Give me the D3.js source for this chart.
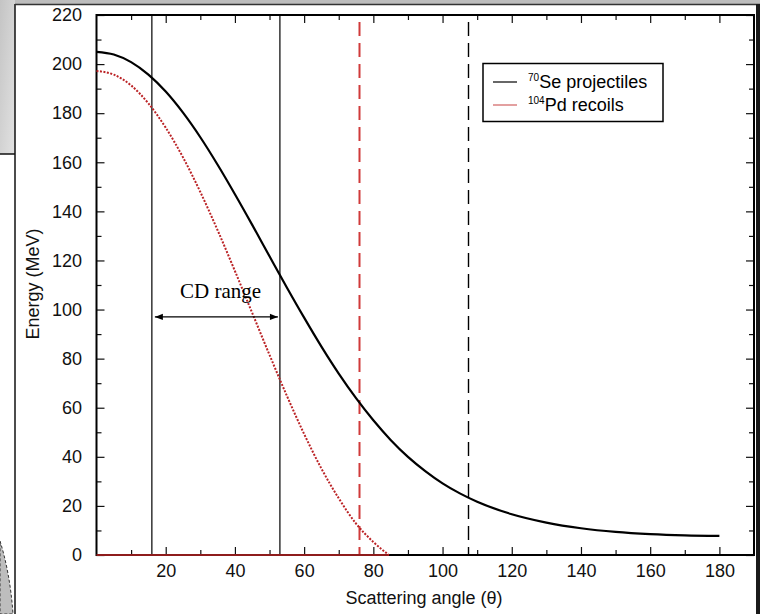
<!DOCTYPE html>
<html>
<head>
<meta charset="utf-8">
<script src="https://cdn.jsdelivr.net/npm/d3@7"></script>
<style>
  html, body { margin: 0; padding: 0; background: #ffffff; }
  svg { display: block; font-family: "Liberation Sans", Arial, Helvetica, sans-serif; }
</style>
</head>
<body>
<svg id="chart" width="760" height="614"></svg>
<script>
// ---- data ----
const projAngle  = [0,5,10,15,20,25,30,35,40,45,50,55,60,65,70,75,80,85,90,95,100,105,110,120,130,140,150,160,170,180];
const projEnergy = [205,203.9,200.8,195.7,188.8,180.2,170.2,159.0,147.0,134.5,121.7,109.0,96.7,84.9,73.9,63.9,54.9,46.9,40.0,34.2,29.2,25.1,21.7,16.6,13.2,10.9,9.4,8.5,8.0,7.8];
const recAngle   = [0,5,10,15,20,25,30,35,40,45,50,55,60,65,70,75,80,84.5];
const recEnergy  = [197.2,195.7,191.3,184.0,174.1,162.0,147.9,132.3,115.7,98.6,81.5,64.9,49.3,35.2,23.1,12.8,5.3,0];
const recZeroAngle = [0, 84.5];
const recZeroEnergy = [0, 0];
const cdRange = [16, 53];          // solid vertical lines
const redDashedAngle = 76;         // red dashed vertical line
const blackDashedAngle = 107.5;    // black dashed vertical line
const xMajorTicks = [20,40,60,80,100,120,140,160,180];
const xMinorTicks = [10,30,50,70,90,110,130,150,170];
const yMajorTicks = [0,20,40,60,80,100,120,140,160,180,200,220];
const yMinorTicks = [10,30,50,70,90,110,130,150,170,190,210];
const seriesNames = ["Se projectiles", "Pd recoils"];
const seriesMass  = ["70", "104"];
const xTitle = "Scattering angle (\u03B8)";
const yTitle = "Energy (MeV)";
const cdLabel = "CD range";

// ---- layout ----
const svg = d3.select("#chart");
const L = 96.5, R = 754, T = 15, B = 555;
const x = d3.scaleLinear().domain([0, 190]).range([L, R]);
const y = d3.scaleLinear().domain([0, 220]).range([B, T]);

// background decorations (scanned page look)
const defs = svg.append("defs");
const bgGrad = defs.append("linearGradient")
  .attr("id", "gbg").attr("x1", 0).attr("y1", 0).attr("x2", 1).attr("y2", 1);
bgGrad.append("stop").attr("offset", "0%").attr("stop-color", "#c4c4c4");
bgGrad.append("stop").attr("offset", "100%").attr("stop-color", "#e2e2e2");
svg.append("rect").attr("x", 0).attr("y", 0).attr("width", 760).attr("height", 4).attr("fill", "#bdbdbd");
svg.append("rect").attr("x", 0).attr("y", 0).attr("width", 15).attr("height", 154).attr("fill", "url(#gbg)");
svg.append("line").attr("x1", 0).attr("x2", 15).attr("y1", 154).attr("y2", 154).attr("stroke", "#111").attr("stroke-width", 1.5);
svg.append("path").attr("d", "M0,541 C6,560 11,585 13,614 L0,614 Z").attr("fill", "#bdbdbd")
  .attr("stroke", "#333").attr("stroke-width", 1).attr("stroke-dasharray", "3,2");
svg.append("line").attr("x1", 15).attr("x2", 15).attr("y1", 4).attr("y2", 614).attr("stroke", "#111").attr("stroke-width", 1.5);
svg.append("line").attr("x1", 15).attr("x2", 760).attr("y1", 4.5).attr("y2", 4.5).attr("stroke", "#333").attr("stroke-width", 1.5);
svg.append("rect").attr("x", 756).attr("y", 4).attr("width", 4).attr("height", 610).attr("fill", "#1a1a1a");

// ---- axes ----
const g = svg.append("g");
const fmt = d3.format("d");

g.append("g").attr("transform", `translate(0,${B})`)
  .call(d3.axisBottom(x).tickValues(xMajorTicks).tickFormat(fmt).tickSizeInner(-8).tickSizeOuter(0).tickPadding(9));
g.append("g").attr("transform", `translate(0,${B})`)
  .call(d3.axisBottom(x).tickValues(xMinorTicks).tickFormat("").tickSizeInner(-5).tickSizeOuter(0));
g.append("g").attr("transform", `translate(0,${T})`)
  .call(d3.axisTop(x).tickValues(xMajorTicks).tickFormat("").tickSizeInner(-8).tickSizeOuter(0));
g.append("g").attr("transform", `translate(0,${T})`)
  .call(d3.axisTop(x).tickValues(xMinorTicks).tickFormat("").tickSizeInner(-5).tickSizeOuter(0));
g.append("g").attr("transform", `translate(${L},0)`)
  .call(d3.axisLeft(y).tickValues(yMajorTicks).tickFormat(fmt).tickSizeInner(-8).tickSizeOuter(0).tickPadding(14.5));
g.append("g").attr("transform", `translate(${L},0)`)
  .call(d3.axisLeft(y).tickValues(yMinorTicks).tickFormat("").tickSizeInner(-5).tickSizeOuter(0));
g.append("g").attr("transform", `translate(${R},0)`)
  .call(d3.axisRight(y).tickValues(yMajorTicks).tickFormat("").tickSizeInner(-8).tickSizeOuter(0));
g.append("g").attr("transform", `translate(${R},0)`)
  .call(d3.axisRight(y).tickValues(yMinorTicks).tickFormat("").tickSizeInner(-5).tickSizeOuter(0));

g.selectAll(".domain").remove();
g.selectAll(".tick line").attr("stroke", "#111").attr("stroke-width", 1.2);
g.selectAll(".tick text").style("font-size", "18px").attr("fill", "#111")
  .style("font-family", "'Liberation Sans', Arial, sans-serif");

// plot frame
svg.append("rect").attr("x", L).attr("y", T).attr("width", R - L).attr("height", B - T)
  .attr("fill", "none").attr("stroke", "#000").attr("stroke-width", 2);

// ---- vertical reference lines ----
svg.selectAll(".cdline").data(cdRange).enter().append("line")
  .attr("x1", d => x(d)).attr("x2", d => x(d)).attr("y1", T).attr("y2", B)
  .attr("stroke", "#000").attr("stroke-width", 1.2);
svg.append("line").attr("x1", x(redDashedAngle)).attr("x2", x(redDashedAngle)).attr("y1", T).attr("y2", B)
  .attr("stroke", "#d03a3a").attr("stroke-width", 2).attr("stroke-dasharray", "14,7").attr("stroke-dashoffset", -7);
svg.append("line").attr("x1", x(blackDashedAngle)).attr("x2", x(blackDashedAngle)).attr("y1", T).attr("y2", B)
  .attr("stroke", "#000").attr("stroke-width", 1.4).attr("stroke-dasharray", "14,7").attr("stroke-dashoffset", -7);

// ---- curves ----
const line = d3.line().x(d => x(d[0])).y(d => y(d[1])).curve(d3.curveMonotoneX);
svg.append("path").datum(recZeroAngle.map((a, i) => [a, recZeroEnergy[i]]))
  .attr("d", line).attr("fill", "none").attr("stroke", "#8e1c1c").attr("stroke-width", 2.2);
svg.append("path").datum(recAngle.map((a, i) => [a, recEnergy[i]]))
  .attr("d", line).attr("fill", "none").attr("stroke", "#bb2326").attr("stroke-width", 2)
  .attr("stroke-dasharray", "2,1.5");
svg.append("path").datum(projAngle.map((a, i) => [a, projEnergy[i]]))
  .attr("d", line).attr("fill", "none").attr("stroke", "#000").attr("stroke-width", 2.2);

// ---- CD range annotation ----
defs.append("marker").attr("id", "ah").attr("viewBox", "0 0 10 10").attr("refX", 10).attr("refY", 5)
  .attr("markerWidth", 10).attr("markerHeight", 8).attr("markerUnits", "userSpaceOnUse").attr("orient", "auto-start-reverse")
  .append("path").attr("d", "M0,1 L10,5 L0,9 Z").attr("fill", "#000");
const arrowY = y(97);
svg.append("line").attr("x1", x(cdRange[0]) + 3).attr("x2", x(cdRange[1]) - 2)
  .attr("y1", arrowY).attr("y2", arrowY).attr("stroke", "#000").attr("stroke-width", 1.3)
  .attr("marker-start", "url(#ah)").attr("marker-end", "url(#ah)");
svg.append("text").attr("x", 220.5).attr("y", 298).attr("text-anchor", "middle")
  .style("font-family", "'Liberation Serif', 'Times New Roman', serif").style("font-size", "21px").attr("fill", "#000")
  .text(cdLabel);

// ---- legend ----
const lg = svg.append("g");
lg.append("rect").attr("x", 483).attr("y", 63.5).attr("width", 180).attr("height", 58)
  .attr("fill", "#fff").attr("stroke", "#000").attr("stroke-width", 1.5);
const legColors = ["#000", "#d06060"];
const legY = [82, 105];
seriesNames.forEach((nm, i) => {
  lg.append("line").attr("x1", 493).attr("x2", 517).attr("y1", legY[i]).attr("y2", legY[i])
    .attr("stroke", legColors[i]).attr("stroke-width", 1.2);
  const t = lg.append("text").attr("x", 528).attr("y", legY[i] + 6).style("font-size", "18px").attr("fill", "#000");
  t.append("tspan").style("font-size", "10px").attr("dy", -7).text(seriesMass[i]);
  t.append("tspan").attr("dy", 7).text(nm);
});

// ---- axis titles ----
svg.append("text").attr("x", 424).attr("y", 604).attr("text-anchor", "middle")
  .style("font-size", "18px").attr("fill", "#111").text(xTitle);
svg.append("text").attr("transform", "translate(39,284) rotate(-90)").attr("text-anchor", "middle")
  .style("font-size", "18px").attr("fill", "#111").text(yTitle);
</script>
</body>
</html>
